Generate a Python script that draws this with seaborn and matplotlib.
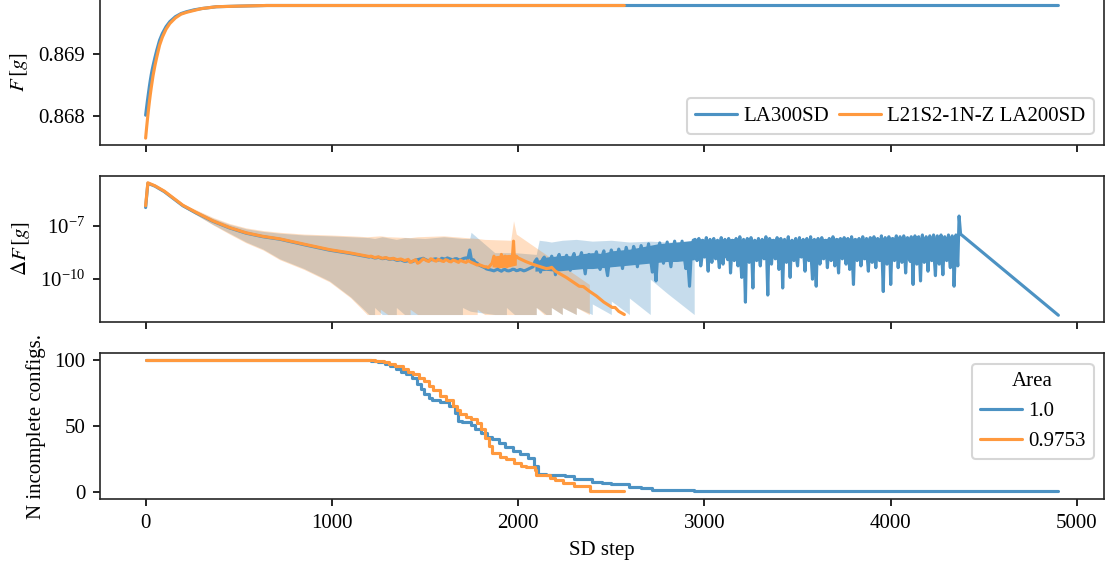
import numpy as np
import pandas as pd
import matplotlib
matplotlib.use("Agg")
import matplotlib.pyplot as plt
import seaborn as sns
from matplotlib.ticker import NullLocator, FormatStrFormatter

sns.set_style("ticks")
plt.rcParams["font.family"] = ["Liberation Serif", "DejaVu Serif"]
plt.rcParams["mathtext.fontset"] = "stix"
plt.rcParams["font.size"] = 10
plt.rcParams["text.color"] = "black"
plt.rcParams["axes.labelcolor"] = "black"
plt.rcParams["xtick.color"] = "black"
plt.rcParams["ytick.color"] = "black"
plt.rcParams["legend.handletextpad"] = 0.3
plt.rcParams["legend.columnspacing"] = 0.5

RUNS = ["LA300SD", "L21S2-1N-Z LA200SD"]
AREAS = ["1.0", "0.9753"]
COLORS = ["#1f77b4", "#ff7f0e"]          # band colours
LINE_COLORS = ["#4c92c3", "#ff993e"]     # the same at 80 % on white

# ── top panel: F [g] ──────────────────────────────────────────────────────────
f_steps_a = [0, 5, 10, 15, 20, 25, 30, 35, 40, 50, 60, 75, 90, 110, 130, 160, 190,
             220, 260, 300, 380, 500, 650, 4900]
f_vals_a = [0.86802, 0.86814, 0.86826, 0.86837, 0.86848, 0.86858, 0.86867, 0.86875,
            0.86882, 0.86895, 0.86907, 0.86923, 0.86934, 0.86945, 0.86953, 0.86961,
            0.86966, 0.86969, 0.86972, 0.86974, 0.86977, 0.86978, 0.86979, 0.86979]
f_steps_b = [0, 5, 10, 15, 20, 25, 30, 35, 40, 50, 60, 75, 90, 110, 130, 160, 190,
             220, 260, 300, 380, 500, 650, 2570]
f_vals_b = [0.86765, 0.86781, 0.86796, 0.86810, 0.86823, 0.86835, 0.86846, 0.86856,
            0.86866, 0.86882, 0.86896, 0.86915, 0.86928, 0.86941, 0.86950, 0.86959,
            0.86965, 0.86968, 0.86971, 0.86974, 0.86977, 0.86978, 0.86979, 0.86979]

# ── middle panel: dF [g], stored as log10 ─────────────────────────────────────
early_steps = [0, 12, 50, 100, 150, 200, 270, 360, 450, 540, 630, 720, 850, 987, 1100]
dF_early_a = [-5.95, -4.58, -4.74, -5.05, -5.45, -5.85, -6.25, -6.72, -7.1, -7.4,
              -7.6, -7.74, -8.05, -8.36, -8.55]
dF_early_b = [-5.85, -4.55, -4.72, -5.02, -5.42, -5.82, -6.22, -6.7, -7.08, -7.38,
              -7.58, -7.72, -8.02, -8.33, -8.52]

# LA300SD, steps 1200..2060 every 20, and in-between points 1210..2050
dF_mid_a = [-8.75, -8.77, -8.79, -8.8, -8.83, -8.85, -8.86, -8.9, -8.92, -8.95,
            -8.98, -9.0, -8.97, -8.9, -8.85, -8.88, -8.95, -8.9, -8.85, -8.9,
            -8.85, -8.8, -8.88, -8.85, -8.9, -8.86, -8.8, -8.35, -8.9, -9.1,
            -9.25, -9.35, -9.45, -9.5, -9.48, -9.5, -9.47, -9.52, -9.5, -9.45,
            -9.5, -9.48, -9.5, -9.4]
dF_mid_a_between = [-8.72, -8.8, -8.76, -8.84, -8.8, -8.88, -8.85, -8.94, -8.9, -8.99,
                    -8.95, -9.02, -8.92, -8.87, -8.82, -8.93, -8.9, -8.86, -8.92, -8.82,
                    -8.86, -8.84, -8.9, -8.84, -8.92, -8.82, -8.85, -8.95, -9.05, -9.2,
                    -9.3, -9.42, -9.47, -9.53, -9.44, -9.55, -9.45, -9.53, -9.44, -9.52,
                    -9.45, -9.53, -9.45]
# LA300SD, steps 2080..2940 every 20, and in-between points 2090..2930
dF_rise_a = [-9.3, -8.85, -9.6, -8.75, -9.4, -8.7, -9.75, -8.6, -9.3, -8.65,
             -9.5, -8.55, -9.3, -8.5, -9.7, -8.6, -9.25, -8.45, -9.45, -8.4,
             -9.8, -8.35, -9.2, -8.3, -9.4, -8.2, -9.1, -8.15, -9.3, -8.1,
             -9.0, -8.0, -9.6, -10.1, -7.95, -9.1, -7.9, -9.3, -7.85, -8.9,
             -7.85, -9.4, -10.4, -7.8]
dF_rise_a_between = [-9.0, -9.2, -8.9, -9.1, -8.95, -9.0, -8.85, -9.1, -8.9, -9.0,
                     -8.8, -9.05, -8.85, -9.0, -8.8, -8.95, -8.8, -9.0, -8.7, -9.2,
                     -8.9, -8.7, -8.8, -8.65, -8.75, -8.6, -8.7, -8.5, -8.6, -8.5,
                     -8.55, -8.8, -9.0, -8.4, -8.5, -8.4, -8.6, -8.35, -8.5, -8.4,
                     -8.6, -8.9, -8.3]
# LA300SD, steps 2950..4360 every 10, and in-between points 2955..4355
dF_noisy_a = [
    -7.75, -8.95, -7.7, -9.25, -7.8, -8.75, -7.65, -9.55, -7.75, -9.05,
    -7.7, -8.85, -7.8, -9.35, -7.65, -9.15, -7.75, -8.75, -7.7, -9.65,
    -7.8, -8.95, -7.7, -9.25, -7.6, -9.9, -7.75, -11.3, -7.7, -9.05,
    -7.65, -10.5, -7.8, -8.95, -7.7, -9.25, -7.75, -8.85, -7.6, -10.9,
    -7.7, -9.15, -7.8, -8.85, -7.65, -9.45, -7.7, -10.5, -7.75, -9.05,
    -7.6, -9.9, -7.8, -8.95, -7.7, -9.25, -7.65, -8.75, -7.75, -9.55,
    -7.7, -8.95, -7.6, -10.0, -7.75, -10.4, -7.7, -9.15, -7.65, -8.85,
    -7.8, -9.35, -7.7, -8.95, -7.6, -9.25, -7.75, -9.65, -7.7, -8.85,
    -7.65, -9.15, -7.7, -9.45, -7.6, -10.3, -7.75, -8.95, -7.7, -9.25,
    -7.6, -8.85, -7.7, -9.55, -7.65, -9.05, -7.6, -9.35, -7.7, -8.95,
    -7.55, -10.7, -7.65, -9.15, -7.6, -10.3, -7.7, -8.95, -7.55, -9.35,
    -7.6, -9.05, -7.55, -9.65, -7.65, -8.85, -7.6, -10.3, -7.55, -9.15,
    -7.6, -10.1, -7.5, -9.05, -7.6, -9.55, -7.55, -8.95, -7.5, -9.8,
    -7.55, -9.15, -7.5, -9.75, -7.6, -8.95, -7.5, -9.35, -7.55, -10.4,
    -7.5, -9.25]
dF_noisy_a_between = [
    -8.5, -8.7, -8.4, -8.9, -8.3, -8.6, -8.8, -8.4, -8.7, -8.5,
    -8.6, -8.35, -8.8, -8.5, -8.7, -8.4, -8.6, -8.9, -8.3, -8.7,
    -8.5, -8.8, -8.4, -8.6, -9.0, -8.5, -9.3, -8.4, -8.7, -8.6,
    -8.9, -8.4, -8.7, -8.5, -8.8, -8.4, -8.6, -8.3, -9.0, -8.5,
    -8.7, -8.4, -8.6, -8.8, -8.5, -9.0, -8.4, -8.7, -8.6, -8.35,
    -8.8, -8.5, -8.6, -8.4, -8.9, -8.5, -8.7, -8.4, -8.8, -8.6,
    -8.4, -8.7, -9.1, -8.5, -9.0, -8.4, -8.6, -8.8, -8.4, -8.7,
    -8.5, -8.6, -8.4, -8.8, -8.5, -8.7, -8.9, -8.4, -8.6, -8.5,
    -8.7, -8.4, -8.8, -8.5, -9.1, -8.6, -8.4, -8.7, -8.5, -8.8,
    -8.4, -8.6, -8.9, -8.5, -8.7, -8.4, -8.8, -8.6, -8.4, -8.7,
    -9.2, -8.4, -8.7, -8.9, -8.5, -8.6, -8.4, -8.8, -8.5, -8.6,
    -8.4, -8.8, -8.5, -8.7, -8.4, -9.0, -8.6, -8.4, -8.7, -8.5,
    -8.9, -8.4, -8.6, -8.8, -8.5, -8.7, -8.4, -8.6, -9.0, -8.3,
    -8.6, -8.4, -8.9, -8.5, -8.7, -8.4, -8.8, -8.5, -8.4, -9.0,
    -8.5]
end_steps_a = [4367, 4375, 4900]
dF_end_a = [-6.43, -7.45, -12.04]

# solid core of the step-to-step jitter (log10 lower / upper)
core_steps_a = [2090, 2150, 2200, 2250, 2300, 2350, 2400, 2450, 2500, 2550,
                2600, 2650, 2700, 2750, 2800, 2850, 2900, 2945, 2950, 3050,
                3150, 3250, 3350, 3450, 3550, 3650, 3750, 3850, 3950, 4050,
                4150, 4250, 4360]
core_hi_a = [-9.0, -8.75, -8.7, -8.65, -8.7, -8.55, -8.5, -8.55, -8.4, -8.35,
             -8.3, -8.2, -8.1, -8.0, -7.95, -7.9, -7.85, -7.8, -7.7, -7.75,
             -7.7, -7.75, -7.7, -7.75, -7.7, -7.7, -7.65, -7.7, -7.65, -7.6,
             -7.65, -7.6, -7.55]
core_lo_a = [-9.55, -9.5, -9.55, -9.5, -9.45, -9.4, -9.4, -9.35, -9.3, -9.25,
             -9.2, -9.15, -9.1, -9.05, -9.0, -9.0, -8.95, -8.9, -8.75, -8.8,
             -8.75, -8.85, -8.75, -8.8, -8.75, -8.7, -8.75, -8.7, -8.75, -8.7,
             -8.65, -8.7, -8.65]
core_steps_b = [1860, 1900, 1950, 1990]
core_hi_b = [-8.7, -8.65, -8.6, -8.65]
core_lo_b = [-9.3, -9.35, -9.3, -9.2]

# L21S2-1N-Z LA200SD, steps 1200..1840 every 20, and in-between points 1210..1830
dF_mid_b = [-8.72, -8.74, -8.76, -8.78, -8.8, -8.82, -8.84, -8.86, -8.88, -8.9,
            -8.92, -9.05, -8.95, -9.1, -8.95, -8.9, -9.0, -8.88, -8.98, -8.92,
            -9.0, -8.93, -9.02, -8.95, -9.05, -8.98, -9.05, -9.0, -9.1, -9.2,
            -9.22, -9.3, -9.35]
dF_mid_b_between = [-8.7, -8.78, -8.74, -8.82, -8.78, -8.86, -8.82, -8.9, -8.86, -8.95,
                    -8.88, -9.0, -8.9, -9.05, -8.85, -8.96, -8.85, -8.95, -8.88, -8.97,
                    -8.9, -9.0, -8.92, -9.0, -8.93, -9.02, -8.96, -9.06, -9.15, -9.18,
                    -9.26, -9.3]
tail_steps_b = [1860, 1870, 1880, 1890, 1900, 1910, 1920, 1930, 1940, 1950,
                1960, 1970, 1975, 1980, 1990, 2000, 2040, 2076, 2120, 2150,
                2167, 2180, 2200, 2258, 2300, 2328, 2350, 2382, 2420, 2460,
                2490, 2505, 2520, 2540, 2570]
dF_tail_b = [-9.1, -8.7, -9.2, -8.8, -9.3, -8.6, -9.0, -8.7, -9.3, -8.8,
             -9.1, -8.6, -7.85, -8.9, -8.7, -8.8, -9.0, -9.15, -9.3, -9.4,
             -9.38, -9.33, -9.55, -9.9, -10.2, -10.4, -10.42, -10.68, -10.95, -11.3,
             -11.5, -11.6, -11.6, -11.82, -12.0]

# spread bands (log10 lower / upper)
band_steps_a = [0, 12, 50, 100, 150, 200, 270, 360, 450, 540,
                630, 720, 850, 987, 1100, 1200, 1229, 1229, 1270, 1346,
                1346, 1390, 1500, 1600, 1701, 1701, 1740, 1747, 1874, 1937,
                1937, 1980, 2097, 2097, 2113, 2150, 2178, 2178, 2237, 2237,
                2312, 2312, 2398, 2398, 2500, 2500, 2597, 2597, 2709, 2709,
                2800, 2945]
band_lo_a = [-5.95, -4.6, -4.76, -5.07, -5.48, -5.92, -6.35, -6.9, -7.4, -7.9,
             -8.3, -8.85, -9.4, -10.1, -11.0, -12.0, -12.0, -11.6, -12.0, -12.0,
             -11.6, -12.0, -12.0, -12.0, -12.0, -11.6, -11.8, -11.82, -12.0, -12.0,
             -11.6, -12.0, -12.0, -11.6, -11.7, -12.0, -12.0, -11.6, -12.0, -11.6,
             -12.0, -11.6, -12.0, -11.4, -12.0, -11.24, -12.0, -11.07, -12.0, -10.0,
             -10.8, -12.0]
band_hi_a = [-5.95, -4.57, -4.72, -5.02, -5.4, -5.78, -6.12, -6.55, -6.9, -7.15,
             -7.3, -7.4, -7.5, -7.55, -7.6, -7.65, -7.7, -7.7, -7.6, -7.75,
             -7.75, -7.65, -7.7, -7.6, -7.7, -7.7, -7.7, -7.35, -8.5, -8.5,
             -8.5, -8.5, -8.6, -8.6, -7.8, -7.85, -7.9, -7.9, -7.8, -7.8,
             -7.75, -7.75, -7.85, -7.85, -7.8, -7.8, -7.9, -7.9, -7.85, -7.85,
             -7.9, -7.9]
band_steps_b = [0, 12, 50, 100, 150, 200, 270, 360, 450, 540,
                630, 720, 850, 987, 1100, 1190, 1260, 1260, 1300, 1420,
                1420, 1460, 1600, 1780, 1780, 1820, 1960, 1975, 1990, 2060,
                2097, 2097, 2140, 2178, 2178, 2237, 2237, 2312, 2312, 2382]
band_lo_b = [-5.85, -4.57, -4.74, -5.05, -5.46, -5.9, -6.35, -6.92, -7.45, -7.95,
             -8.35, -8.9, -9.45, -10.15, -11.05, -12.0, -12.0, -11.7, -12.0, -12.0,
             -11.7, -12.0, -12.0, -12.0, -11.7, -12.0, -12.0, -12.0, -12.0, -12.0,
             -12.0, -11.6, -12.0, -12.0, -11.6, -12.0, -11.6, -12.0, -11.6, -12.0]
band_hi_b = [-5.85, -4.54, -4.7, -4.99, -5.36, -5.73, -6.07, -6.5, -6.85, -7.1,
             -7.25, -7.35, -7.45, -7.5, -7.55, -7.6, -7.55, -7.55, -7.6, -7.65,
             -7.65, -7.6, -7.55, -7.7, -7.7, -7.75, -7.8, -6.7, -7.45, -7.96,
             -8.23, -8.23, -8.54, -8.82, -8.82, -9.25, -9.25, -9.79, -9.79, -10.3]

# ── bottom panel: number of incomplete configs ────────────────────────────────
n_steps_a = [0, 1210, 1250, 1285, 1310, 1343, 1370, 1400, 1430, 1459,
             1480, 1497, 1520, 1535, 1580, 1631, 1660, 1679, 1700, 1745,
             1770, 1803, 1830, 1860, 1899, 1930, 1974, 2010, 2055, 2087,
             2108, 2150, 2253, 2300, 2398, 2450, 2500, 2594, 2660, 2720,
             2945, 4900]
n_vals_a = [100, 99, 98, 97, 95, 93, 91, 89, 86, 82,
            78, 74, 71, 70, 68, 65, 60, 54, 53, 51,
            48, 45, 42, 40, 37, 34, 31, 29, 26, 20,
            14, 13, 12, 10, 8, 7, 6, 4, 3, 2,
            1, 1]
n_steps_b = [0, 1230, 1280, 1305, 1340, 1382, 1410, 1438, 1470, 1497,
             1520, 1545, 1580, 1610, 1650, 1670, 1688, 1720, 1745, 1780,
             1800, 1824, 1845, 1861, 1900, 1937, 1975, 2013, 2044, 2092,
             2096, 2169, 2200, 2242, 2300, 2387, 2570]
n_vals_b = [100, 99, 98, 97, 95, 93, 91, 89, 86, 84,
            80, 77, 73, 70, 65, 62, 59, 57, 55, 52,
            48, 41, 35, 30, 27, 25, 22, 20, 19, 17,
            13, 11, 9, 7, 5, 1, 1]

# ── assemble tables ───────────────────────────────────────────────────────────
top_df = pd.concat([
    pd.DataFrame({"step": f_steps_a, "F": f_vals_a, "run": RUNS[0]}),
    pd.DataFrame({"step": f_steps_b, "F": f_vals_b, "run": RUNS[1]}),
])

steps_a = (early_steps
           + list(range(1200, 2061, 20)) + list(range(1210, 2051, 20))
           + list(range(2080, 2941, 20)) + list(range(2090, 2931, 20))
           + list(range(2950, 4361, 10)) + list(range(2955, 4356, 10))
           + end_steps_a)
log_a = (dF_early_a + dF_mid_a + dF_mid_a_between + dF_rise_a + dF_rise_a_between
         + dF_noisy_a + dF_noisy_a_between + dF_end_a)
steps_b = (early_steps + list(range(1200, 1841, 20)) + list(range(1210, 1831, 20))
           + tail_steps_b)
log_b = dF_early_b + dF_mid_b + dF_mid_b_between + dF_tail_b
mid_df = pd.concat([
    pd.DataFrame({"step": steps_a, "dF": 10.0 ** np.array(log_a), "run": RUNS[0]}),
    pd.DataFrame({"step": steps_b, "dF": 10.0 ** np.array(log_b), "run": RUNS[1]}),
]).sort_values(["run", "step"], kind="stable")

bot_df = pd.concat([
    pd.DataFrame({"step": n_steps_a, "N": n_vals_a, "Area": AREAS[0]}),
    pd.DataFrame({"step": n_steps_b, "N": n_vals_b, "Area": AREAS[1]}),
])

# ── plot ──────────────────────────────────────────────────────────────────────
fig, (ax1, ax2, ax3) = plt.subplots(3, 1, sharex=True, figsize=(1106 / 150, 566 / 150), dpi=150)
fig.subplots_adjust(left=0.0904, right=0.9982, top=1.002, bottom=0.1184, hspace=0.214)

sns.lineplot(data=top_df, x="step", y="F", hue="run", hue_order=RUNS, palette=LINE_COLORS,
             estimator=None, sort=False, legend=False, ax=ax1)
ax1.legend(ax1.get_lines()[:2], RUNS, loc="lower right", ncol=2)
ax1.set_ylabel(r"$F\,[g]$")
ax1.set_xlabel("")
ax1.set_yticks([0.868, 0.869])
ax1.yaxis.set_major_formatter(FormatStrFormatter("%.3f"))

ax2.set_yscale("log")
ax2.fill_between(band_steps_a, 10.0 ** np.array(band_lo_a), 10.0 ** np.array(band_hi_a),
                 color=COLORS[0], alpha=0.25, lw=0)
ax2.fill_between(band_steps_b, 10.0 ** np.array(band_lo_b), 10.0 ** np.array(band_hi_b),
                 color=COLORS[1], alpha=0.25, lw=0)
ax2.fill_between(core_steps_a, 10.0 ** np.array(core_lo_a), 10.0 ** np.array(core_hi_a),
                 color=LINE_COLORS[0], lw=0)
ax2.fill_between(core_steps_b, 10.0 ** np.array(core_lo_b), 10.0 ** np.array(core_hi_b),
                 color=LINE_COLORS[1], lw=0)
sns.lineplot(data=mid_df, x="step", y="dF", hue="run", hue_order=RUNS, palette=LINE_COLORS,
             estimator=None, sort=False, legend=False, ax=ax2)
ax2.set_ylabel(r"$\Delta F\,[g]$")
ax2.set_xlabel("")
ax2.set_yticks([1e-10, 1e-7])
ax2.yaxis.set_minor_locator(NullLocator())

sns.lineplot(data=bot_df, x="step", y="N", hue="Area", hue_order=AREAS, palette=LINE_COLORS,
             estimator=None, sort=False, legend=False, drawstyle="steps-post", ax=ax3)
ax3.legend(ax3.get_lines()[:2], AREAS, title="Area", loc="upper right")
ax3.set_ylim(-5, 105)
ax3.set_yticks([0, 50, 100])
ax3.set_ylabel("N incomplete configs.")
ax3.set_xlabel("SD step")
ax3.set_xticks([0, 1000, 2000, 3000, 4000, 5000])

fig.savefig("out.png", dpi=150)
